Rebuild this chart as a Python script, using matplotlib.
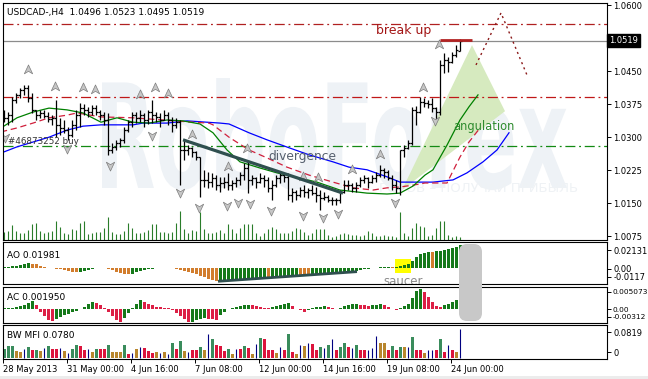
import matplotlib
matplotlib.use("Agg")
import numpy as np
import matplotlib.pyplot as plt
import matplotlib.transforms as mtrans
from matplotlib.patches import Rectangle, Polygon, FancyBboxPatch, PathPatch
from matplotlib.path import Path
from matplotlib.textpath import TextPath
from matplotlib.font_manager import FontProperties

plt.rcParams['font.family'] = ['DejaVu Sans']

W, H = 648, 379

# ---- USDCAD H4 bars ----
opens = [1.0340, 1.0344, 1.0350, 1.0384, 1.0396, 1.0407, 1.0412, 1.0389, 1.0362, 1.0350,
         1.0355, 1.0348, 1.0341, 1.0344, 1.0328, 1.0321, 1.0316, 1.0305, 1.0328, 1.0350,
         1.0366, 1.0362, 1.0357, 1.0366, 1.0357, 1.0350, 1.0339, 1.0271, 1.0278, 1.0287,
         1.0294, 1.0316, 1.0334, 1.0350, 1.0344, 1.0350, 1.0339, 1.0357, 1.0350, 1.0346,
         1.0339, 1.0350, 1.0339, 1.0328, 1.0334, 1.0271, 1.0271, 1.0276, 1.0266, 1.0255,
         1.0203, 1.0203, 1.0198, 1.0207, 1.0191, 1.0196, 1.0198, 1.0191, 1.0196, 1.0203,
         1.0214, 1.0230, 1.0203, 1.0207, 1.0198, 1.0207, 1.0203, 1.0185, 1.0191, 1.0207,
         1.0214, 1.0210, 1.0169, 1.0176, 1.0169, 1.0180, 1.0176, 1.0180, 1.0173, 1.0169,
         1.0162, 1.0164, 1.0157, 1.0157, 1.0157, 1.0176, 1.0191, 1.0191, 1.0185, 1.0191,
         1.0203, 1.0207, 1.0198, 1.0207, 1.0214, 1.0226, 1.0221, 1.0207, 1.0191, 1.0185,
         1.0271, 1.0276, 1.0287, 1.0362, 1.0357, 1.0380, 1.0378, 1.0375, 1.0366, 1.0357,
         1.0464, 1.0475, 1.0471, 1.0486, 1.0496]
highs = [1.0362, 1.0357, 1.0391, 1.0400, 1.0412, 1.0418, 1.0418, 1.0400, 1.0362, 1.0362,
         1.0362, 1.0357, 1.0350, 1.0384, 1.0344, 1.0339, 1.0323, 1.0339, 1.0362, 1.0378,
         1.0375, 1.0369, 1.0373, 1.0373, 1.0362, 1.0357, 1.0355, 1.0287, 1.0294, 1.0298,
         1.0323, 1.0339, 1.0357, 1.0357, 1.0362, 1.0355, 1.0362, 1.0384, 1.0357, 1.0355,
         1.0362, 1.0357, 1.0346, 1.0344, 1.0339, 1.0294, 1.0282, 1.0278, 1.0268, 1.0255,
         1.0226, 1.0221, 1.0219, 1.0214, 1.0210, 1.0210, 1.0219, 1.0203, 1.0210, 1.0221,
         1.0241, 1.0248, 1.0214, 1.0210, 1.0219, 1.0214, 1.0210, 1.0203, 1.0214, 1.0221,
         1.0219, 1.0219, 1.0185, 1.0180, 1.0187, 1.0191, 1.0185, 1.0191, 1.0187, 1.0180,
         1.0176, 1.0169, 1.0164, 1.0162, 1.0180, 1.0203, 1.0203, 1.0196, 1.0198, 1.0210,
         1.0214, 1.0210, 1.0214, 1.0221, 1.0237, 1.0230, 1.0226, 1.0214, 1.0203, 1.0271,
         1.0282, 1.0294, 1.0369, 1.0371, 1.0391, 1.0389, 1.0384, 1.0389, 1.0369, 1.0475,
         1.0491, 1.0482, 1.0493, 1.0509, 1.0523]
lows = [1.0334, 1.0328, 1.0334, 1.0378, 1.0389, 1.0396, 1.0380, 1.0355, 1.0339, 1.0344,
        1.0344, 1.0334, 1.0328, 1.0300, 1.0305, 1.0310, 1.0294, 1.0300, 1.0316, 1.0323,
        1.0350, 1.0346, 1.0350, 1.0350, 1.0339, 1.0328, 1.0260, 1.0264, 1.0271, 1.0278,
        1.0287, 1.0312, 1.0323, 1.0332, 1.0334, 1.0323, 1.0330, 1.0332, 1.0334, 1.0323,
        1.0339, 1.0328, 1.0312, 1.0321, 1.0191, 1.0248, 1.0260, 1.0255, 1.0248, 1.0164,
        1.0187, 1.0185, 1.0187, 1.0180, 1.0176, 1.0185, 1.0180, 1.0180, 1.0187, 1.0191,
        1.0203, 1.0173, 1.0191, 1.0185, 1.0196, 1.0187, 1.0176, 1.0157, 1.0187, 1.0196,
        1.0198, 1.0157, 1.0153, 1.0157, 1.0164, 1.0164, 1.0162, 1.0169, 1.0153, 1.0135,
        1.0157, 1.0153, 1.0146, 1.0146, 1.0151, 1.0173, 1.0180, 1.0176, 1.0176, 1.0187,
        1.0196, 1.0185, 1.0196, 1.0198, 1.0210, 1.0207, 1.0203, 1.0180, 1.0173, 1.0169,
        1.0255, 1.0274, 1.0282, 1.0328, 1.0355, 1.0369, 1.0366, 1.0357, 1.0339, 1.0350,
        1.0446, 1.0448, 1.0468, 1.0482, 1.0495]
closes = [1.0344, 1.0350, 1.0384, 1.0396, 1.0407, 1.0412, 1.0389, 1.0362, 1.0350, 1.0355,
          1.0348, 1.0341, 1.0344, 1.0328, 1.0321, 1.0316, 1.0305, 1.0328, 1.0350, 1.0366,
          1.0362, 1.0357, 1.0366, 1.0357, 1.0350, 1.0339, 1.0271, 1.0278, 1.0287, 1.0294,
          1.0316, 1.0334, 1.0350, 1.0344, 1.0350, 1.0339, 1.0357, 1.0350, 1.0346, 1.0339,
          1.0350, 1.0339, 1.0328, 1.0334, 1.0271, 1.0271, 1.0276, 1.0266, 1.0255, 1.0203,
          1.0203, 1.0198, 1.0207, 1.0191, 1.0196, 1.0198, 1.0191, 1.0196, 1.0203, 1.0214,
          1.0230, 1.0203, 1.0207, 1.0198, 1.0207, 1.0203, 1.0185, 1.0191, 1.0207, 1.0214,
          1.0210, 1.0169, 1.0176, 1.0169, 1.0180, 1.0176, 1.0180, 1.0173, 1.0169, 1.0162,
          1.0164, 1.0157, 1.0157, 1.0157, 1.0176, 1.0191, 1.0191, 1.0185, 1.0191, 1.0203,
          1.0207, 1.0198, 1.0207, 1.0214, 1.0226, 1.0221, 1.0207, 1.0191, 1.0185, 1.0271,
          1.0276, 1.0287, 1.0362, 1.0357, 1.0380, 1.0378, 1.0375, 1.0366, 1.0357, 1.0464,
          1.0475, 1.0471, 1.0486, 1.0498, 1.0519]
volumes = [800, 900, 1500, 900, 700, 700, 1000, 1600, 1700, 900,
           700, 800, 900, 1900, 1300, 700, 600, 1100, 1000, 1700,
           1900, 600, 700, 800, 800, 1200, 2300, 800, 600, 600,
           900, 1700, 1200, 700, 700, 800, 1000, 1600, 1600, 800,
           800, 700, 800, 1700, 2900, 1100, 700, 1000, 900, 2800,
           1100, 700, 700, 800, 1000, 700, 1600, 1100, 700, 1200,
           1600, 1600, 1600, 700, 400, 700, 1100, 1300, 1100, 700,
           700, 700, 900, 1200, 1100, 800, 500, 700, 1100, 1100,
           1100, 500, 300, 400, 600, 700, 600, 500, 500, 400,
           500, 900, 700, 400, 400, 500, 400, 400, 300, 2800,
           700, 400, 1200, 1700, 1400, 1300, 400, 500, 1200, 1900,
           1900, 500, 300, 400, 300]

# ---- indicator panels ----
ao = [0.0008, 0.0011, 0.0015, 0.0020, 0.0027, 0.0034, 0.0040, 0.0038, 0.0030, 0.0021,
      0.0012, 0.0004, -0.0002, -0.0005, -0.0008, -0.0014, -0.0022, -0.0031, -0.0038, -0.0035,
      -0.0025, -0.0015, -0.0008, -0.0004, -0.0002, -0.0001, -0.0006, -0.0018, -0.0030, -0.0042,
      -0.0050, -0.0055, -0.0048, -0.0038, -0.0027, -0.0018, -0.0010, -0.0005, -0.0003, -0.0002,
      -0.0001, 0.0000, -0.0004, -0.0008, -0.0015, -0.0025, -0.0035, -0.0045, -0.0055, -0.0065,
      -0.0078, -0.0090, -0.0102, -0.0113, -0.0111, -0.0109, -0.0107, -0.0105, -0.0103, -0.0101,
      -0.0099, -0.0097, -0.0095, -0.0093, -0.0091, -0.0089, -0.0090, -0.0087, -0.0083, -0.0079,
      -0.0075, -0.0070, -0.0066, -0.0063, -0.0064, -0.0066, -0.0067, -0.0064, -0.0061, -0.0058,
      -0.0055, -0.0052, -0.0049, -0.0046, -0.0043, -0.0039, -0.0035, -0.0031, -0.0026, -0.0018,
      -0.0012, -0.0007, -0.0003, 0.0002, 0.0006, 0.0009, 0.0012, 0.0008, 0.0011, 0.0016,
      0.0022, 0.0030, 0.0060, 0.0091, 0.0119, 0.0128, 0.0136, 0.0132, 0.0142, 0.0148,
      0.0156, 0.0163, 0.0171, 0.0180, 0.0198]
ac = [0.0001, 0.0001, 0.0002, 0.0003, 0.0006, 0.0010, 0.0015, 0.0019, 0.0008, -0.0008,
      -0.0020, -0.0030, -0.0033, -0.0027, -0.0022, -0.0018, -0.0014, -0.0010, -0.0006, -0.0002,
      0.0004, 0.0011, 0.0017, 0.0014, 0.0008, 0.0002, -0.0010, -0.0020, -0.0030, -0.0034,
      -0.0024, -0.0012, 0.0002, 0.0012, 0.0021, 0.0017, 0.0012, 0.0008, 0.0005, 0.0003,
      0.0002, 0.0001, -0.0004, -0.0012, -0.0020, -0.0028, -0.0036, -0.0034, -0.0031, -0.0028,
      -0.0025, -0.0026, -0.0028, -0.0029, -0.0018, -0.0008, -0.0002, 0.0002, 0.0004, 0.0006,
      0.0008, 0.0010, 0.0008, 0.0006, 0.0005, 0.0002, 0.0001, 0.0003, 0.0006, 0.0010,
      0.0013, 0.0014, 0.0006, 0.0000, -0.0004, -0.0008, -0.0003, 0.0002, 0.0004, 0.0005,
      0.0006, 0.0004, 0.0001, -0.0002, 0.0002, 0.0006, 0.0009, 0.0011, 0.0012, 0.0010,
      0.0009, 0.0007, 0.0008, 0.0010, 0.0011, 0.0009, 0.0004, -0.0002, -0.0004, 0.0001,
      0.0006, 0.0012, 0.0028, 0.0045, 0.0051, 0.0044, 0.0031, 0.0018, 0.0007, 0.0004,
      0.0009, 0.0013, 0.0018, 0.0023, 0.00195]
mfi = [0.024, 0.032, 0.032, 0.019, 0.016, 0.024, 0.030, 0.022, 0.022, 0.019,
       0.027, 0.032, 0.024, 0.024, 0.027, 0.019, 0.0135, 0.024, 0.035, 0.032,
       0.022, 0.024, 0.016, 0.024, 0.024, 0.024, 0.035, 0.016, 0.016, 0.016,
       0.035, 0.011, 0.0135, 0.024, 0.030, 0.027, 0.019, 0.0135, 0.016, 0.0135,
       0.016, 0.011, 0.040, 0.024, 0.046, 0.019, 0.016, 0.022, 0.022, 0.030,
       0.022, 0.065, 0.051, 0.035, 0.032, 0.019, 0.024, 0.011, 0.024, 0.024,
       0.032, 0.027, 0.011, 0.038, 0.054, 0.051, 0.022, 0.022, 0.0135, 0.030,
       0.022, 0.065, 0.016, 0.011, 0.035, 0.032, 0.040, 0.038, 0.022, 0.030,
       0.027, 0.035, 0.051, 0.022, 0.030, 0.040, 0.030, 0.027, 0.035, 0.022,
       0.022, 0.022, 0.027, 0.059, 0.040, 0.040, 0.022, 0.032, 0.022, 0.030,
       0.030, 0.030, 0.057, 0.022, 0.022, 0.0135, 0.022, 0.022, 0.022, 0.051,
       0.016, 0.035, 0.022, 0.016, 0.078]
# g = green, b = fade (brown), r = squat (pink), u = fake (blue)
mfi_kind = ("gggbbugrgb" "ugrrubuggr" "rubgrrgbbb" "gruburrrbu" "bugrgburrg"
            "bugrrrgbur" "grbugrrrbu" "rgrbuburrg" "ugurggrugr" "ruuubbrgrg"
            "bugrrbuurg" "rurbu")

# ---- Alligator lines (bar position, price) ----
jaw_x = [-0.75, 3.25, 7.25, 11.25, 15.75, 19.75, 24.25, 28.25, 32.25, 34.75, 40.75, 45.75, 50.75, 54,
         56.25, 61.25, 65.75, 71.25, 76.25, 82.25, 86.25, 90.75, 95.75, 99, 107.25, 112.25, 115.75,
         119.75, 123.25, 126.25]
jaw_y = [1.0264, 1.0278, 1.0289, 1.0300, 1.0316, 1.0325, 1.0328, 1.0328, 1.0328, 1.0332, 1.0332, 1.0337,
         1.0334, 1.0332, 1.0330, 1.0310, 1.0294, 1.0276, 1.0260, 1.0244, 1.0232, 1.0226, 1.0210, 1.0198,
         1.0198, 1.0203, 1.0219, 1.0244, 1.0271, 1.0310]
teeth_x = [-0.75, 3.25, 7.25, 11.25, 15.75, 18.25, 24.25, 32.25, 47.25, 51.25, 52.25, 56.25, 61.25,
           65.75, 70.75, 76.25, 82.25, 87.25, 92.25, 95.75, 99, 102.25, 105.25, 110.75, 114, 116.25, 119]
teeth_y = [1.0312, 1.0321, 1.0332, 1.0344, 1.0350, 1.0355, 1.0346, 1.0344, 1.0334, 1.0332, 1.0328,
           1.0300, 1.0271, 1.0253, 1.0232, 1.0214, 1.0198, 1.0185, 1.0180, 1.0185, 1.0187, 1.0191,
           1.0196, 1.0196, 1.0255, 1.0289, 1.0321]
lips_x = [-0.75, 3.25, 7.25, 11.25, 15.75, 19.75, 24.25, 28.25, 32.25, 36.25, 40.75, 44.75, 49, 52.25,
          55.75, 59, 64, 68.25, 74, 78.25, 84, 90.75, 95.75, 99, 102.25, 105.25, 107.25, 110.75, 114,
          116.25, 118.5]
lips_y = [1.0321, 1.0344, 1.0357, 1.0366, 1.0362, 1.0355, 1.0334, 1.0344, 1.0334, 1.0332, 1.0339,
          1.0337, 1.0330, 1.0310, 1.0271, 1.0244, 1.0230, 1.0219, 1.0207, 1.0198, 1.0180, 1.0173,
          1.0171, 1.0173, 1.0189, 1.0214, 1.0226, 1.0282, 1.0339, 1.0369, 1.0396]

# ---- fractal arrows ----
frac_up_x = [6, 12.75, 19.75, 22.75, 34, 37.75, 41, 47, 56, 60.75, 74.75, 78.5, 87, 94, 104.75, 108.75]
frac_up_y = [1.0452, 1.0414, 1.0411, 1.0407, 1.0396, 1.0411, 1.0398, 1.0305, 1.0232, 1.0273, 1.0210,
             1.0208, 1.0226, 1.0260, 1.0412, 1.0509]
frac_dn_x = [0.25, 15.75, 26.5, 37, 44, 48.75, 55.75, 58.5, 61.5, 66.75, 74.75, 79.75, 83.5, 97.75, 107.75]
frac_dn_y = [1.0300, 1.0275, 1.0237, 1.0305, 1.0176, 1.0142, 1.0146, 1.0153, 1.0151, 1.0135, 1.0124,
             1.0119, 1.0128, 1.0153, 1.0339]

tick_bars = [0, 16, 32, 48, 64, 80, 96, 112]
tick_labels = ['28 May 2013', '31 May 00:00', '4 Jun 16:00', '7 Jun 08:00',
               '12 Jun 00:00', '14 Jun 16:00', '19 Jun 08:00', '24 Jun 00:00']
price_ticks = [1.0600, 1.0450, 1.0375, 1.0300, 1.0225, 1.0150, 1.0075]
last_price = 1.0519
level_high = 1.0557
level_mid = 1.0391
level_order = 1.0280

x = np.arange(len(closes))

fig = plt.figure(figsize=(W / 100, H / 100), dpi=100)
pix = mtrans.Affine2D().scale(1 / W, -1 / H).translate(0, 1) + fig.transFigure


def panel(top, bottom, left=3, right=607):
    a = fig.add_axes([left / W, 1 - bottom / H, (right - left) / W, (bottom - top) / H])
    a.set_xlim(-0.25, 150.75)
    for s in a.spines.values():
        s.set_linewidth(0.8)
    a.yaxis.tick_right()
    a.tick_params(axis='y', length=3, width=0.7, labelsize=6, pad=1.5)
    a.tick_params(axis='x', bottom=False, labelbottom=False)
    return a


# watermark behind everything
tp = TextPath((0, 0), 'RoboForex', size=100, prop=FontProperties(family='DejaVu Sans', weight='bold'))
ext = tp.get_extents()
wm = mtrans.Affine2D().translate(-ext.x0, -ext.y0).scale(465 / ext.width, -112 / ext.height).translate(102, 190)
fig.add_artist(PathPatch(wm.transform_path(tp), transform=pix, fc='#eef2f6', ec='none', zorder=-1))
fig.text(578 / W, 1 - 189 / H, 'ГОТОВ – ПОЛУЧАЙ ПРИБЫЛЬ', fontsize=9.5, color='#eff2f5',
         ha='right', va='center', zorder=-1)

# volumes under the price chart
axv = fig.add_axes([3 / W, 1 - 240 / H, 604 / W, 237 / H])
axv.set_xlim(-0.25, 150.75)
axv.set_ylim(0, 23700)
axv.axis('off')
axv.set_zorder(-0.5)
axv.vlines(x, 0, volumes, color='#2a7d2a', lw=0.8)

# main price panel
ax = panel(3, 240)
ax.patch.set_visible(False)
ax.set_ylim(1.00666, 1.06046)
ax.set_yticks(price_ticks)
ax.set_yticklabels([f"{p:.4f}" for p in price_ticks])

ax.add_patch(Polygon([(99.5, 1.0180), (117, 1.0509), (125.25, 1.0359)], closed=True,
                     fc='#d6eabf', ec='none', zorder=0.5))

ax.axhline(level_high, color='#b02020', lw=0.9, ls=(0, (8, 3, 1.5, 3)))
ax.axhline(level_mid, color='#c01818', lw=0.9, ls=(0, (8, 3, 1.5, 3)))
ax.axhline(level_order, color='#138a13', lw=0.9, ls=(0, (8, 3, 1.5, 3)))
ax.axhline(last_price, color='#8c8c8c', lw=0.9)

ax.plot(jaw_x, jaw_y, color='#0000ff', lw=0.9)
ax.plot(teeth_x, teeth_y, color='#d0203c', lw=0.9, ls=(0, (5, 3)))
ax.plot(lips_x, lips_y, color='#008000', lw=0.9)

ax.vlines(x, lows, highs, color='black', lw=0.9)
ax.hlines(opens, x - 0.45, x, color='black', lw=0.9)
ax.hlines(closes, x, x + 0.45, color='black', lw=0.9)

up_arrow = Path([(0, 1), (0.75, -0.6), (0, -0.15), (-0.75, -0.6), (0, 1)],
                [Path.MOVETO, Path.LINETO, Path.LINETO, Path.LINETO, Path.CLOSEPOLY])
dn_arrow = Path([(0, -1), (0.75, 0.6), (0, 0.15), (-0.75, 0.6), (0, -1)],
                [Path.MOVETO, Path.LINETO, Path.LINETO, Path.LINETO, Path.CLOSEPOLY])
ax.plot(frac_up_x, frac_up_y, ls='none', marker=up_arrow, ms=8, mfc='#c6c6c6', mec='#7d7d7d', mew=0.5)
ax.plot(frac_dn_x, frac_dn_y, ls='none', marker=dn_arrow, ms=8, mfc='#c6c6c6', mec='#7d7d7d', mew=0.5)

# divergence line and break-up marks
ax.plot([44.75, 84.75], [1.0294, 1.0173], color='#2f4f4f', lw=2.3, solid_capstyle='butt')
ax.plot([109, 117], [1.0520, 1.0520], color='#b22222', lw=2, solid_capstyle='butt')
ax.plot([118, 124.25, 130.75], [1.0464, 1.0582, 1.0441], color='#8b1a1a', lw=1, ls=(0, (1.5, 2.5)))

ax.text(93, 1.0543, 'break up', color='#a31515', fontsize=9, va='center')
ax.text(112.25, 1.0325, 'angulation', color='#2e8b2e', fontsize=8.3, va='center')
ax.text(66, 1.0257, 'divergence', color='#56606e', fontsize=8.8, va='center')
ax.text(1, 1.0291, '#46873252 buy', color='#333333', fontsize=6.3, va='center')

ax.text(1.004, last_price, '1.0519', transform=mtrans.blended_transform_factory(ax.transAxes, ax.transData),
        fontsize=6, color='white', va='center', ha='left', clip_on=False,
        bbox=dict(boxstyle='square,pad=0.25', fc='black', ec='black'))

fig.text(7 / W, 1 - 13 / H, 'USDCAD-,H4  1.0496 1.0523 1.0495 1.0519', fontsize=6.5, va='center')

# AO panel
ax_ao = panel(242, 284)
ax_ao.set_ylim(-0.0136, 0.0221)
ao_col = ['#15791a' if i == 0 or ao[i] >= ao[i - 1] else '#d27d2d' for i in range(len(ao))]
ax_ao.add_patch(Rectangle((97.75, -0.0043), 4.0, 0.012, fc='#ffff00', ec='none', zorder=0.5))
ax_ao.bar(x, ao, width=0.75, color=ao_col, lw=0)
ax_ao.plot([53.5, 88.25], [-0.0113, -0.0031], color='#2f4f4f', lw=2, solid_capstyle='butt')
ax_ao.text(94.75, -0.0111, 'saucer', fontsize=8.5, color='#8a8a8a', va='center', clip_on=True)
ax_ao.set_yticks([0.0153, -0.00085, -0.0076])
ax_ao.set_yticklabels(['0.02131', '0.00', '-0.0117'])
fig.text(7 / W, 1 - 255 / H, 'AO 0.01981', fontsize=6.5, va='center')

# AC panel
ax_ac = panel(287, 323)
ax_ac.set_ylim(-0.00377, 0.00559)
ac_col = ['#15791a' if i == 0 or ac[i] >= ac[i - 1] else '#dc1f45' for i in range(len(ac))]
ax_ac.bar(x, ac, width=0.75, color=ac_col, lw=0)
ax_ac.set_yticks([0.00429, -0.00013, -0.0022])
ax_ac.set_yticklabels(['0.005073', '0.00', '-0.00312'])
ax_ac.tick_params(axis='y', labelsize=5.3, pad=1)
fig.text(7 / W, 1 - 297 / H, 'AC 0.001950', fontsize=6.5, va='center')

# BW MFI panel
ax_mfi = panel(325, 359)
ax_mfi.set_ylim(-0.0027, 0.0891)
mfi_colors = {'g': '#3a8c5c', 'b': '#b8862d', 'r': '#dc143c'}
kinds = np.array(list(mfi_kind))
mfi_arr = np.array(mfi)
for k, c in mfi_colors.items():
    m = kinds == k
    ax_mfi.bar(x[m], mfi_arr[m], width=0.75, color=c, lw=0)
m = kinds == 'u'
ax_mfi.vlines(x[m], 0, mfi_arr[m], color='#000080', lw=0.8)
ax_mfi.set_yticks([0.0702, 0.0162])
ax_mfi.set_yticklabels(['0.0819', '0'])
ax_mfi.tick_params(axis='x', bottom=True, labelbottom=True, length=3, width=0.7, labelsize=6, pad=1.5)
ax_mfi.set_xticks([b - 0.25 for b in tick_bars])
ax_mfi.set_xticklabels(tick_labels, ha='left')
fig.text(7 / W, 1 - 336 / H, 'BW MFI 0.0780', fontsize=6.5, va='center')

# grey rounded marker spanning AO and AC
fig.add_artist(FancyBboxPatch((459, 244), 23, 77, boxstyle='round,pad=0,rounding_size=8',
                              transform=pix, fc='#c8c8c8', ec='none', zorder=10))
fig.add_artist(Rectangle((0, 376), W, 3, transform=pix, fc='#ececec', ec='none', zorder=-2))

fig.savefig('out.png', dpi=100)
